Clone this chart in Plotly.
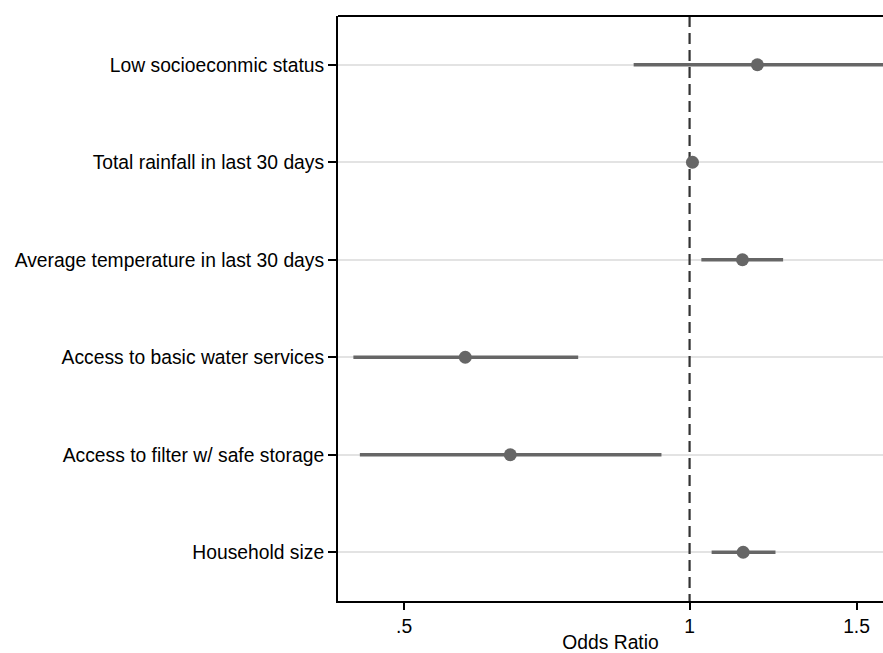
import plotly.graph_objects as go

labels = ["Low socioeconmic status", "Total rainfall in last 30 days",
          "Average temperature in last 30 days", "Access to basic water services",
          "Access to filter w/ safe storage", "Household size"]
odds = [1.179, 1.007, 1.137, 0.580, 0.647, 1.139]
lower = [0.873, 1.000, 1.029, 0.442, 0.449, 1.055]
upper = [1.70, 1.014, 1.255, 0.763, 0.934, 1.232]
xticks = [0.5, 1, 1.5]
xticklabels = [".5", "1", "1.5"]

pos = list(range(1, len(labels) + 1))
grey = "#666666"

fig = go.Figure()

# CI lines
cx, cy = [], []
for p, lo, hi in zip(pos, lower, upper):
    cx += [lo, hi, None]
    cy += [p, p, None]
fig.add_trace(go.Scatter(x=cx, y=cy, mode="lines", line=dict(color=grey, width=3.5),
                         hoverinfo="skip", showlegend=False))
# reference line at 1
fig.add_trace(go.Scatter(x=[1, 1], y=[0.5, 6.5], mode="lines",
                         line=dict(color="#333333", width=2.2, dash="11px,6px"),
                         hoverinfo="skip", showlegend=False))
# points
fig.add_trace(go.Scatter(x=odds, y=pos, mode="markers",
                         marker=dict(color=grey, size=13), showlegend=False))

fig.update_layout(
    width=883, height=653,
    margin=dict(l=338, r=0, t=16, b=52),
    plot_bgcolor="white", paper_bgcolor="white",
    font=dict(family="Liberation Sans, Arial, sans-serif", size=19.3, color="black"),
    xaxis=dict(type="log", range=[-0.3708, 0.2040], tickvals=xticks, ticktext=xticklabels,
               showgrid=False, zeroline=False, showline=True, linecolor="black", linewidth=2,
               ticks="outside", ticklen=7, tickwidth=2, tickcolor="black",
               title=dict(text="Odds Ratio", standoff=3, font=dict(size=19.3))),
    yaxis=dict(range=[6.5, 0.5], tickvals=pos, ticktext=labels,
               showgrid=True, gridcolor="#e3e3e3", gridwidth=2, zeroline=False,
               showline=True, linecolor="black", linewidth=2,
               ticks="outside", ticklen=8, tickwidth=2, tickcolor="black"),
    shapes=[dict(type="line", xref="paper", yref="paper", x0=0, x1=1, y0=1, y1=1,
                 line=dict(color="black", width=2))],
)

fig.write_html("out.html", config={"displayModeBar": False},
               post_script="document.body.style.margin='0';document.body.style.overflow='hidden';")
